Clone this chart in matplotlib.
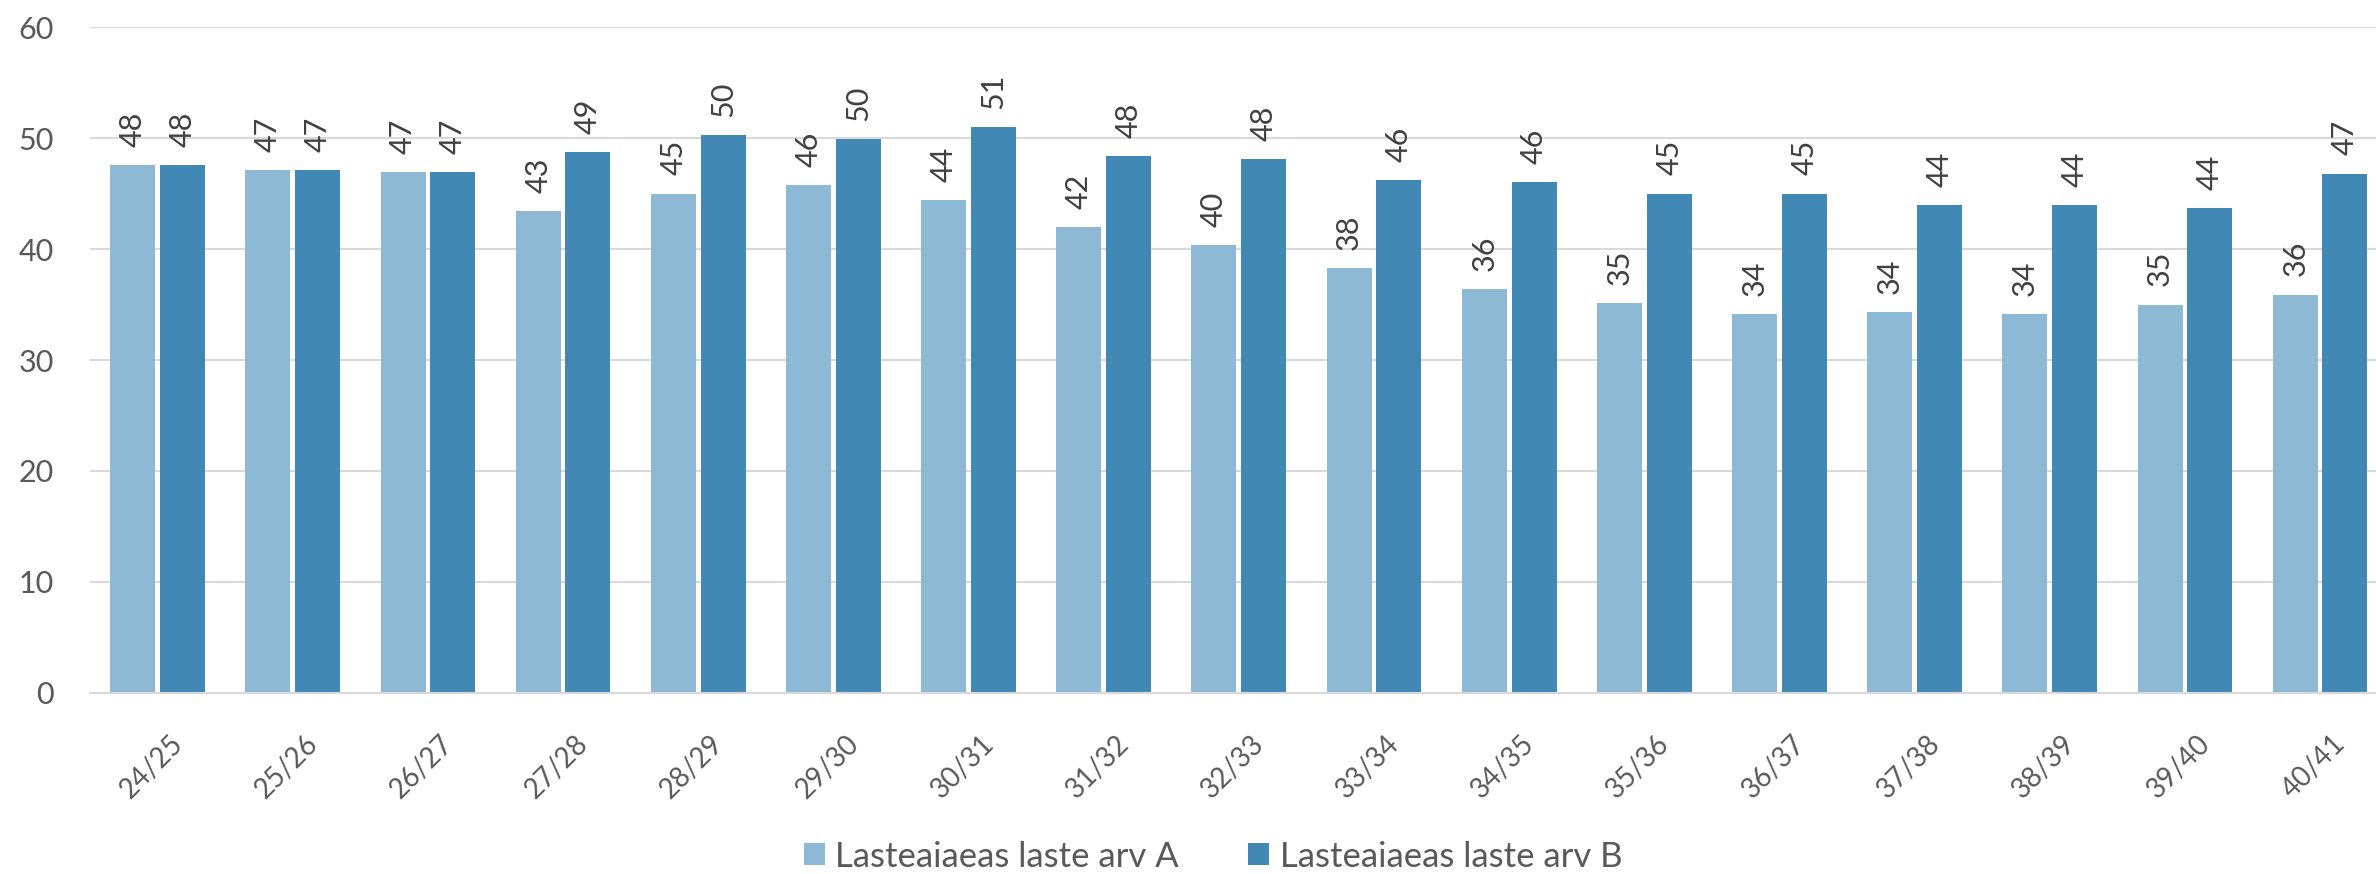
import numpy as np
import matplotlib
matplotlib.use("Agg")
import matplotlib.pyplot as plt
from matplotlib.transforms import ScaledTranslation

plt.rcParams['font.family'] = ['Lato', 'DejaVu Sans']

# Kooliaastad ja laste arv kahe stsenaariumi järgi
periods = ['24/25', '25/26', '26/27', '27/28', '28/29', '29/30', '30/31', '31/32', '32/33',
           '33/34', '34/35', '35/36', '36/37', '37/38', '38/39', '39/40', '40/41']
arv_a = [47.6, 47.1, 46.9, 43.4, 45.0, 45.8, 44.4, 42.0, 40.4,
         38.3, 36.4, 35.1, 34.1, 34.3, 34.1, 35.0, 35.9]
arv_b = [47.6, 47.1, 46.9, 48.7, 50.3, 49.9, 51.0, 48.4, 48.1,
         46.2, 46.0, 45.0, 45.0, 44.0, 44.0, 43.7, 46.8]
series_names = ['Lasteaiaeas laste arv A', 'Lasteaiaeas laste arv B']

color_a = '#8DB9D4'
color_b = '#4189B4'
grid_color = '#D9D9D9'
text_color = '#595959'
label_color = '#404040'

fig = plt.figure(figsize=(23.76, 8.74), dpi=100)
ax = fig.add_axes([0.0379, 0.2071, 0.967, 0.762])

x = np.arange(len(periods))
w = 0.333
off = 0.184
bars_a = ax.bar(x - off, arv_a, w, color=color_a, label=series_names[0], zorder=2)
bars_b = ax.bar(x + off, arv_b, w, color=color_b, label=series_names[1], zorder=2)

# väärtused tulpade kohal
for bars, vals in [(bars_a, arv_a), (bars_b, arv_b)]:
    for rect, v in zip(bars, vals):
        ax.annotate(f"{v:.0f}", (rect.get_x() + rect.get_width() / 2, v),
                    xytext=(0, 13), textcoords='offset points', rotation=90,
                    ha='center', va='bottom', fontsize=22, color=label_color)

ax.set_xlim(-0.5, len(periods) - 0.5)
ax.set_ylim(0, 60)
ax.set_yticks(range(0, 61, 10))
ax.yaxis.grid(True, color=grid_color, linewidth=1.5, zorder=0)
ax.set_axisbelow(True)

ax.set_xticks(x)
ax.set_xticklabels(periods, rotation=45, ha='right', rotation_mode='anchor')
ax.tick_params(axis='x', length=0, pad=27, labelsize=20, labelcolor=text_color)
ax.tick_params(axis='y', length=0, pad=26, labelsize=22, labelcolor=text_color)

# nihuta kaldu silte veidi paremale
shift = ScaledTranslation(12 / 100, 0, fig.dpi_scale_trans)
for lab in ax.get_xticklabels():
    lab.set_transform(lab.get_transform() + shift)

for s in ['top', 'right', 'left']:
    ax.spines[s].set_visible(False)
ax.spines['bottom'].set_color(grid_color)
ax.spines['bottom'].set_linewidth(1.5)

fig.legend(loc='center', bbox_to_anchor=(0.5106, 0.02), ncol=2, frameon=False,
           fontsize=25, labelcolor=text_color, handlelength=0.6, handleheight=0.6,
           handletextpad=0.3, columnspacing=2.0)

fig.savefig('out.png', dpi=100)
